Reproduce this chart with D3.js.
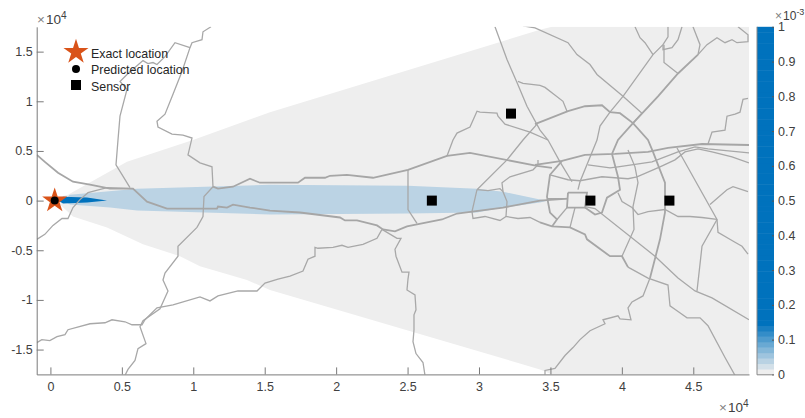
<!DOCTYPE html>
<html>
<head>
<meta charset="utf-8">
<script src="https://cdn.jsdelivr.net/npm/d3@7"></script>
<style>
  html, body { margin: 0; padding: 0; background: #fff; overflow: hidden; }
  text { font-family: "Liberation Sans", Arial, sans-serif; fill: #404040; }
</style>
</head>
<body>
<div id="chart"></div>
<script>
// values in units of 1e4
const xTicks = [0, 0.5, 1, 1.5, 2, 2.5, 3, 3.5, 4, 4.5];
const yTicks = [-1.5, -1, -0.5, 0, 0.5, 1, 1.5];
const barTicks = [0, 0.1, 0.2, 0.3, 0.4, 0.5, 0.6, 0.7, 0.8, 0.9, 1];
const legendLabels = ["Exact location", "Predicted location", "Sensor"];

const exactLocation = [0.03, 0];
const predictedLocation = [0.03, 0];
const sensors = [[2.67, 0], [3.224, 0.876], [3.78, 0], [4.333, 0]];

// likelihood regions: [value, outline]
const regionLow = [[0.067,0.04],[0.123,0.06],[0.536,0.39],[0.998,0.61],[1.537,0.89],[3.427,1.72],[3.511,1.75],[4.89,1.75],[4.89,-1.75],[3.511,-1.75],[3.427,-1.70],[1.537,-0.90],[1.376,-0.80],[1.047,-0.66],[0.907,-0.56],[0.648,-0.44],[0.396,-0.27],[0.158,-0.16],[0.067,-0.04]];
const regionMid = [[0.088,0],[0.137,0.06],[0.606,0.12],[1.537,0.16],[2.503,0.15],[2.986,0.12],[3.168,0.09],[3.427,0.01],[3.483,0],[3.427,-0.02],[3.168,-0.07],[2.986,-0.12],[2.503,-0.13],[1.537,-0.14],[0.606,-0.10],[0.417,-0.07],[0.137,-0.04]];
const regionHigh = [[0.053,0],[0.088,0.04],[0.256,0.03],[0.396,0],[0.256,-0.02],[0.088,-0.03]];
const regionValues = [0, 0.03, 0.5];

const majorRoads = [
  [[-0.095,0.46],[-0.039,0.39],[0.053,0.28],[0.158,0.19],[0.277,0.16],[0.417,0.12],[0.578,0.12],[0.676,-0.01],[0.816,-0.08],[1.166,-0.08],[1.173,-0.06],[1.236,-0.07],[1.278,-0.04],[1.397,-0.07],[1.537,-0.10],[1.747,-0.12],[2.027,-0.17],[2.062,-0.20],[2.146,-0.20],[2.286,-0.25],[2.328,-0.29],[2.412,-0.31],[2.496,-0.26],[2.741,-0.19],[2.846,-0.13],[3.168,-0.07],[3.427,0],[3.623,0.02]],
  [[1.138,0.14],[1.173,0.12],[1.278,0.14],[1.397,0.22],[1.467,0.18],[1.733,0.18],[1.782,0.23],[1.922,0.23],[1.957,0.25],[2.076,0.26],[2.258,0.23],[2.503,0.31],[2.776,0.45],[2.937,0.48],[3.406,0.35],[3.511,0.33]],
  [[3.392,0.77],[3.623,0.90],[3.742,0.95],[3.861,0.96],[3.917,0.89],[3.987,0.88],[4.078,0.78],[4.183,0.61],[4.218,0.49],[4.253,0.36],[4.302,0.18],[4.302,-0.12],[4.267,-0.39],[4.197,-0.78]],
  [[4.533,1.47],[4.393,1.28],[4.253,1.05],[4.078,0.78],[3.973,0.61],[3.931,0.47]],
  [[4.89,0.56],[4.561,0.57],[4.323,0.53],[4.183,0.49],[3.952,0.47],[3.742,0.46],[3.581,0.40],[3.392,0.36]],
  [[3.581,0.40],[3.497,0.26],[3.476,0.04],[3.497,-0.12],[3.546,-0.19],[3.511,-0.26]],
  [[3.427,-0.22],[3.511,-0.26],[3.637,-0.27],[3.742,-0.34],[3.756,-0.39],[3.917,-0.56],[4.001,-0.56],[4.043,-0.67]],
  [[3.623,0.08],[3.756,0.08],[3.742,-0.07],[3.616,-0.07],[3.623,0.08]],
  [[3.931,0.47],[3.973,0.24],[3.987,0.11],[3.896,0.03],[3.861,-0.12],[3.812,-0.14],[3.742,-0.07]]
];

const minorRoads = [
  [[1.124,1.75],[1.068,1.70],[1.061,1.62],[0.991,1.59],[0.977,1.54],[0.921,1.30],[0.858,1.07],[0.802,0.87],[0.746,0.80],[0.753,0.74],[0.851,0.67],[0.928,0.66],[0.991,0.63],[0.963,0.46],[1.047,0.38],[1.131,0.34],[1.138,0.14],[1.075,0.04],[1.068,-0.16],[1.026,-0.27],[0.893,-0.46],[0.893,-0.56],[0.802,-0.73],[0.788,-0.80],[0.823,-0.91],[0.767,-1.09],[0.648,-1.21],[0.627,-1.27],[0.669,-1.44],[0.613,-1.49],[0.592,-1.61],[0.543,-1.70],[0.522,-1.76]],
  [[0.977,1.54],[0.872,1.59],[0.802,1.45],[0.746,1.37],[0.718,1.39],[0.683,1.38],[0.648,1.41],[0.543,1.28],[0.487,1.20],[0.536,1.12],[0.487,0.85],[0.473,0.61],[0.459,0.36],[0.557,0.13]],
  [[-0.095,-0.39],[-0.039,-0.34],[0.018,-0.25],[0.081,-0.18],[0.123,-0.18],[0.158,-0.07],[0.207,0.01],[0.263,0.08],[0.396,0.13],[0.578,0.12]],
  [[-0.095,-1.43],[-0.06,-1.40],[-0.004,-1.41],[0.046,-1.37],[0.102,-1.35],[0.123,-1.30],[0.277,-1.24],[0.382,-1.23],[0.431,-1.20],[0.522,-1.22],[0.571,-1.25],[0.641,-1.25],[0.662,-1.20],[0.746,-1.08],[0.858,-1.05],[1.047,-0.97],[1.117,-1.01],[1.173,-0.96],[1.313,-0.91],[1.446,-0.91],[1.502,-0.83],[1.593,-0.79],[1.677,-0.76],[1.768,-0.71],[1.803,-0.59],[1.852,-0.56],[1.852,-0.47],[1.873,-0.48],[1.978,-0.47],[2.041,-0.45],[2.083,-0.47],[2.188,-0.44],[2.286,-0.38],[2.321,-0.29]],
  [[2.503,0.31],[2.503,-0.09],[2.566,-0.23]],
  [[2.776,0.45],[2.818,0.61],[2.846,0.68],[2.937,0.74],[2.986,0.90],[3.007,0.89],[3.126,0.88],[3.133,0.85],[3.182,0.77],[3.357,0.69],[3.483,0.61]],
  [[3.112,1.75],[3.196,1.42],[3.266,1.19],[3.336,0.95],[3.427,0.71],[3.483,0.61],[3.567,0.39],[3.651,0.19]],
  [[3.273,1.20],[3.308,1.18],[3.427,1.16],[3.462,1.14],[3.588,1.00],[3.616,0.90]],
  [[2.986,0.11],[3.196,0.41],[3.308,0.61],[3.406,0.77]],
  [[2.986,0.11],[3.063,0.10],[3.147,0.12],[3.168,0.09],[3.196,-0.01],[3.189,-0.16],[3.273,-0.18],[3.357,-0.17],[3.427,-0.22]],
  [[2.986,0.11],[2.951,-0.11],[2.958,-0.18],[3.042,-0.16],[3.147,-0.20],[3.189,-0.16]],
  [[3.168,0.09],[3.161,0.18],[3.217,0.24],[3.378,0.31],[3.413,0.36],[3.413,0.41]],
  [[3.308,1.76],[3.392,1.74],[3.623,1.59],[3.686,1.47],[3.777,1.37],[3.826,1.27],[4.008,1.05],[4.141,0.88],[4.078,0.78]],
  [[4.323,1.75],[4.323,1.65],[4.288,1.57],[4.218,1.47],[4.008,1.05],[3.917,0.89],[3.847,0.75],[3.826,0.61],[3.707,0.19],[3.693,0.11]],
  [[4.092,1.75],[4.127,1.64],[4.162,1.59],[4.218,1.47]],
  [[4.421,1.75],[4.393,1.62],[4.351,1.54],[4.288,1.52],[4.288,1.57]],
  [[4.295,1.57],[4.295,1.39],[4.393,1.28]],
  [[4.498,1.75],[4.547,1.57],[4.533,1.47]],
  [[4.533,1.47],[4.596,1.57],[4.666,1.64],[4.722,1.59],[4.771,1.62],[4.806,1.59],[4.883,1.60],[4.883,1.67],[4.813,1.75]],
  [[4.883,1.03],[4.848,1.02],[4.827,0.89],[4.792,0.87],[4.736,0.85],[4.722,0.71],[4.631,0.69],[4.603,0.57]],
  [[4.89,0.48],[4.603,0.52],[4.512,0.54],[4.393,0.49],[4.211,0.39],[3.973,0.34],[3.917,0.33],[3.763,0.36]],
  [[4.89,0.38],[4.771,0.44],[4.631,0.49],[4.533,0.52],[4.442,0.49],[4.372,0.41],[4.267,0.34],[4.106,0.24],[4.043,0.22],[3.861,0.24],[3.707,0.20],[3.623,0.21],[3.497,0.26]],
  [[4.043,0.51],[4.092,0.34],[4.113,0.18],[4.078,-0.06],[4.085,-0.29],[4.001,-0.56]],
  [[3.742,-0.06],[3.812,-0.08],[4.232,-0.56],[4.393,-0.78],[4.512,-0.91],[4.631,-0.98],[4.89,-1.20]],
  [[4.386,0.53],[4.666,-0.19],[4.561,-0.46],[4.526,-0.91]],
  [[4.666,-0.19],[4.561,-0.17],[4.477,-0.16],[4.393,-0.16],[4.302,-0.09],[4.183,-0.11],[4.113,-0.14],[4.071,-0.07],[4.001,-0.01],[3.973,0.08]],
  [[4.617,-0.04],[4.736,0.11],[4.778,0.14],[4.883,0.09]],
  [[4.666,-0.19],[4.673,-0.32],[4.792,-0.42],[4.841,-0.46],[4.883,-0.54]],
  [[3.476,0.02],[3.623,0.02]],
  [[3.616,-0.07],[3.546,-0.19]],
  [[3.672,-0.07],[3.637,-0.27]],
  [[4.197,-0.78],[4.148,-0.96],[4.071,-1.02],[4.043,-1.08],[4.064,-1.20],[3.987,-1.19],[3.973,-1.16],[3.868,-1.20],[3.882,-1.24],[3.777,-1.31],[3.707,-1.40],[3.658,-1.48],[3.602,-1.56],[3.532,-1.69],[3.462,-1.71],[3.462,-1.76]],
  [[4.043,-0.67],[4.183,-0.78],[4.323,-0.85],[4.337,-1.06],[4.386,-1.11],[4.456,-1.18],[4.547,-1.18],[4.603,-1.26],[4.722,-1.58],[4.792,-1.76]],
  [[2.321,-0.29],[2.426,-0.38],[2.454,-0.38],[2.412,-0.49],[2.419,-0.56],[2.461,-0.72],[2.510,-0.72],[2.503,-0.79],[2.496,-0.90],[2.552,-0.95],[2.559,-1.10],[2.545,-1.15],[2.545,-1.30],[2.538,-1.42],[2.559,-1.54],[2.608,-1.63],[2.622,-1.76]]
];

const width = 805, height = 418;

const x = d3.scaleLinear().domain([-0.096, 4.89]).range([36.7, 749]);
const y = d3.scaleLinear().domain([-1.75, 1.75]).range([374.4, 26.8]);
const yBar = d3.scaleLinear().domain([0, 1]).range([374.4, 26.8]);

// grey into the parula-like blue, saturates near 0.14
const color = d3.scaleLinear().domain([0, 0.14]).range(["#eeeeee", "#0072bd"]).clamp(true);

const svg = d3.select("#chart").append("svg").attr("width", width).attr("height", height);

svg.append("clipPath").attr("id", "plot").append("rect")
  .attr("x", 36.7).attr("y", 26.8).attr("width", 749 - 36.7).attr("height", 374.4 - 26.8);

const plot = svg.append("g").attr("clip-path", "url(#plot)");
const line = d3.line().x(d => x(d[0])).y(d => y(d[1]));

[regionLow, regionMid, regionHigh].forEach((r, i) => {
  plot.append("path").attr("d", line(r) + "Z").attr("fill", color(regionValues[i]));
});

plot.selectAll(".minor").data(minorRoads).enter().append("path")
  .attr("d", line).attr("fill", "none").attr("stroke", "#a8a8a8").attr("stroke-width", 1.3);
plot.selectAll(".major").data(majorRoads).enter().append("path")
  .attr("d", line).attr("fill", "none").attr("stroke", "#a6a6a6").attr("stroke-width", 1.8);

// axes
const xAxis = svg.append("g").attr("transform", "translate(0,374.4)")
  .call(d3.axisBottom(x).tickValues(xTicks).tickFormat(d => String(d)).tickSizeInner(-7).tickSizeOuter(0).tickPadding(8));
const yAxis = svg.append("g").attr("transform", "translate(36.7,0)")
  .call(d3.axisLeft(y).tickValues(yTicks).tickFormat(d => String(d)).tickSizeInner(-7).tickSizeOuter(0).tickPadding(4));
[xAxis, yAxis].forEach(a => {
  a.selectAll("path, line").attr("stroke", "#7a7a7a");
  a.selectAll("text").attr("font-size", 12.5).attr("font-family", null);
});

// markers
const star = d3.symbol().type(d3.symbolStar);
svg.append("path").attr("d", star.size(195)())
  .attr("transform", `translate(${x(exactLocation[0])},${y(exactLocation[1])})`).attr("fill", "#d95319");
svg.append("circle").attr("cx", x(predictedLocation[0])).attr("cy", y(predictedLocation[1])).attr("r", 4).attr("fill", "#000");
svg.selectAll(".sensor").data(sensors).enter().append("rect")
  .attr("x", d => x(d[0]) - 5).attr("y", d => y(d[1]) - 5)
  .attr("width", 10).attr("height", 10).attr("fill", "#000");

// legend
svg.append("path").attr("d", star.size(195)()).attr("transform", "translate(76,52)").attr("fill", "#d95319");
svg.append("circle").attr("cx", 76).attr("cy", 69).attr("r", 4).attr("fill", "#000");
svg.append("rect").attr("x", 71).attr("y", 80).attr("width", 10).attr("height", 10).attr("fill", "#000");
svg.selectAll(".legend").data(legendLabels).enter().append("text")
  .attr("x", 91).attr("y", (d, i) => [57.5, 74, 90.5][i]).attr("font-size", 12.4).style("fill", "#262626")
  .text(d => d);

// colour bar, 64 colormap steps
const steps = d3.range(64).map(i => i / 64);
svg.selectAll(".step").data(steps).enter().append("rect")
  .attr("x", 757).attr("width", 17)
  .attr("y", d => yBar(d + 1 / 64)).attr("height", d => yBar(d) - yBar(d + 1 / 64) + 0.5)
  .attr("fill", d => color(d));
const barAxis = svg.append("g").attr("transform", "translate(774,0)")
  .call(d3.axisRight(yBar).tickValues(barTicks).tickFormat(d => String(d)).tickSizeInner(-2).tickSizeOuter(0).tickPadding(4));
barAxis.select(".domain").remove();
barAxis.selectAll("line").attr("stroke", "#555");
barAxis.selectAll("text").attr("font-size", 12.5).attr("font-family", null);
svg.append("path").attr("d", d3.line()([[757, 26.8], [757, 374.8], [774, 374.8]]))
  .attr("fill", "none").attr("stroke", "#888");

// axis multipliers
function multiplier(px, py, exp, size) {
  const t = svg.append("text").attr("x", px).attr("y", py).attr("font-size", size);
  t.append("tspan").text("\u00d7").style("fill", "#808080");
  t.append("tspan").attr("dx", 1).text("10");
  t.append("tspan").attr("dy", -5).attr("font-size", size * 0.75).text(exp);
}
multiplier(37, 24, "4", 13.5);
multiplier(719, 412, "4", 13.5);
multiplier(775, 20, "-3", 12);
</script>
</body>
</html>
